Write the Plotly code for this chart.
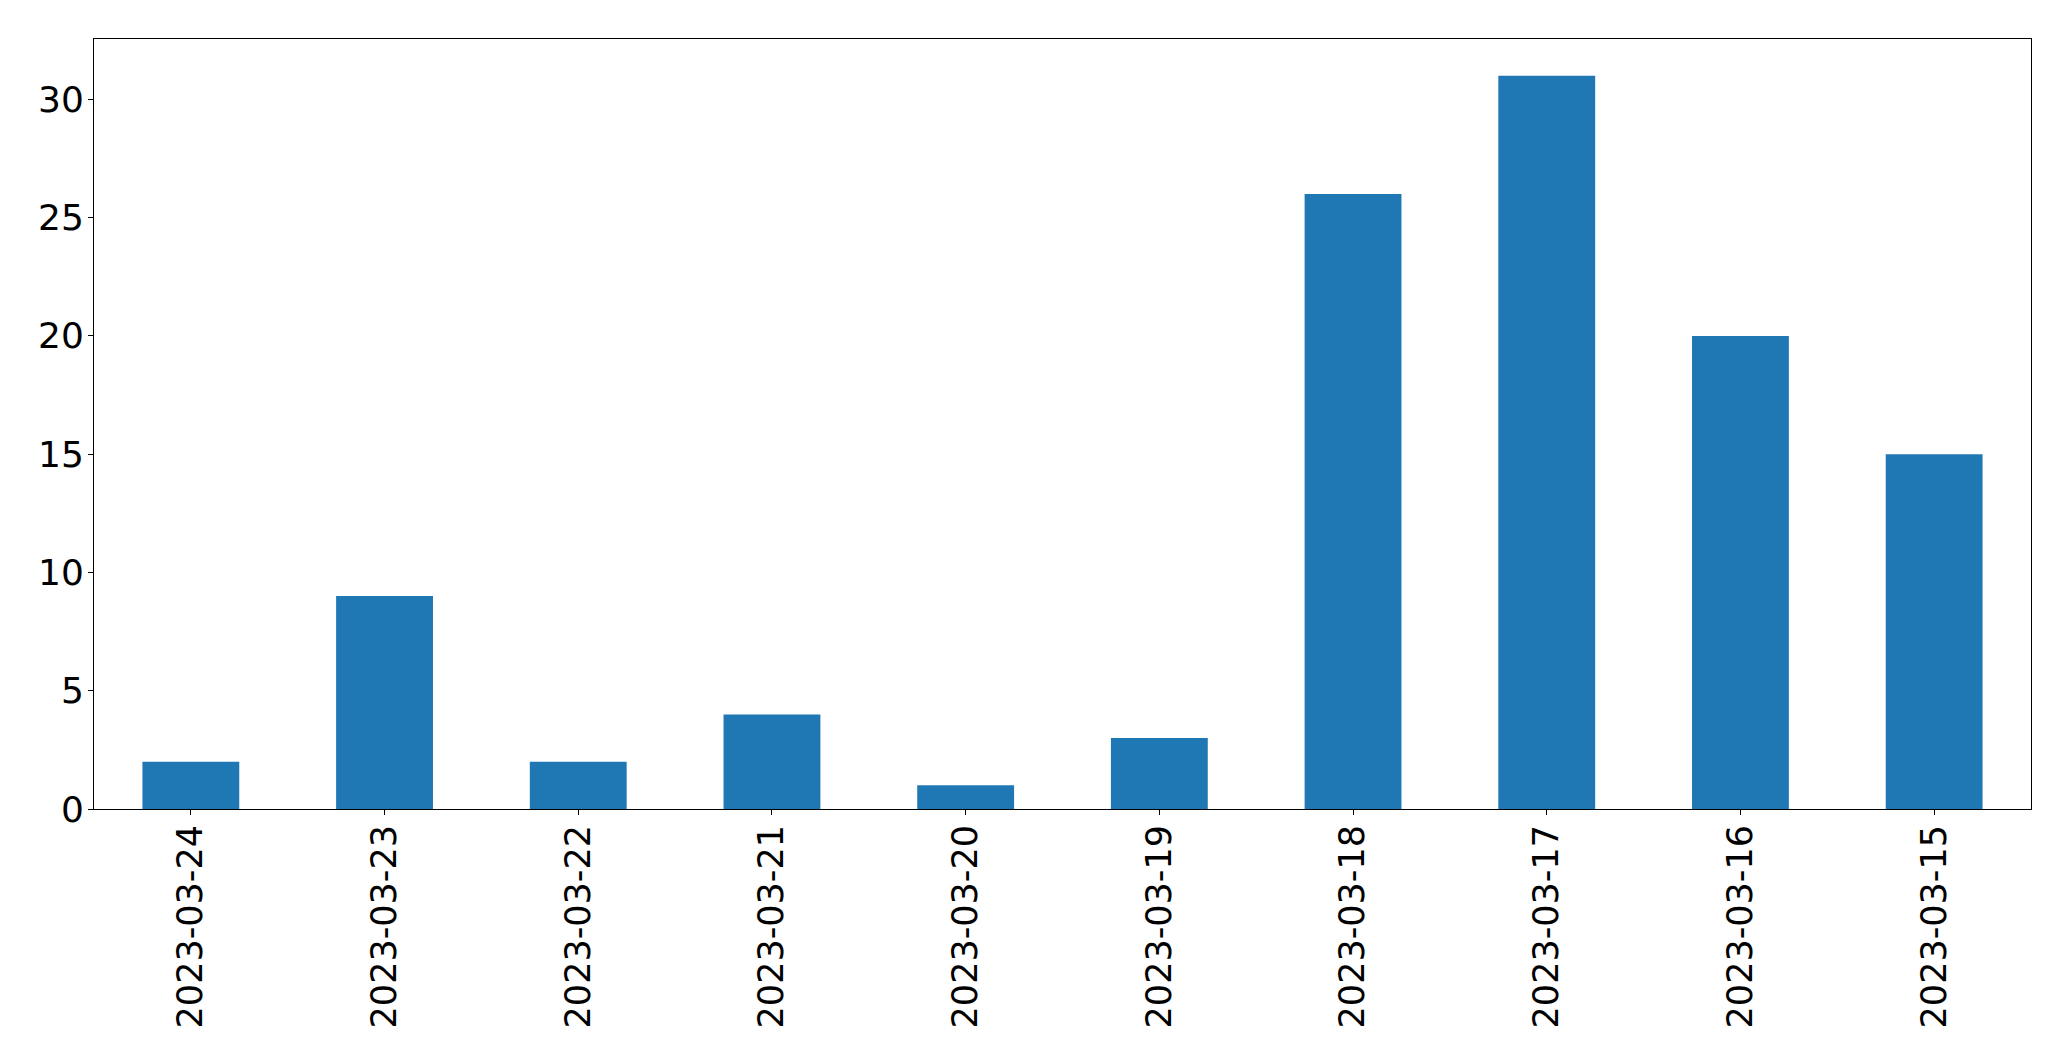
import plotly.graph_objects as go

dates = ["2023-03-24", "2023-03-23", "2023-03-22", "2023-03-21", "2023-03-20",
         "2023-03-19", "2023-03-18", "2023-03-17", "2023-03-16", "2023-03-15"]
counts = [2, 9, 2, 4, 1, 3, 26, 31, 20, 15]

fig = go.Figure(go.Bar(x=dates, y=counts, marker=dict(color="#1f77b4", line=dict(width=0)), width=0.5))

axis_common = dict(showline=True, linecolor="black", linewidth=1, mirror=True,
                   ticks="outside", ticklen=5, tickwidth=1, tickcolor="black",
                   showgrid=False, zeroline=False, automargin=False)

fig.update_layout(
    width=2063, height=1053,
    margin=dict(l=86, r=40, t=31, b=252),
    plot_bgcolor="white", paper_bgcolor="white",
    showlegend=False,
    xaxis=dict(type="category", range=[-0.5, 9.5], tickangle=-90,
               ticklabelstandoff=-4,
               tickfont=dict(family="DejaVu Sans", size=35, color="black"),
               **axis_common),
    yaxis=dict(range=[0, 32.55], tick0=0, dtick=5, ticklabelstandoff=-3,
               tickfont=dict(family="DejaVu Sans", size=36, color="black"),
               **axis_common),
)

fig.write_html("out.html")
